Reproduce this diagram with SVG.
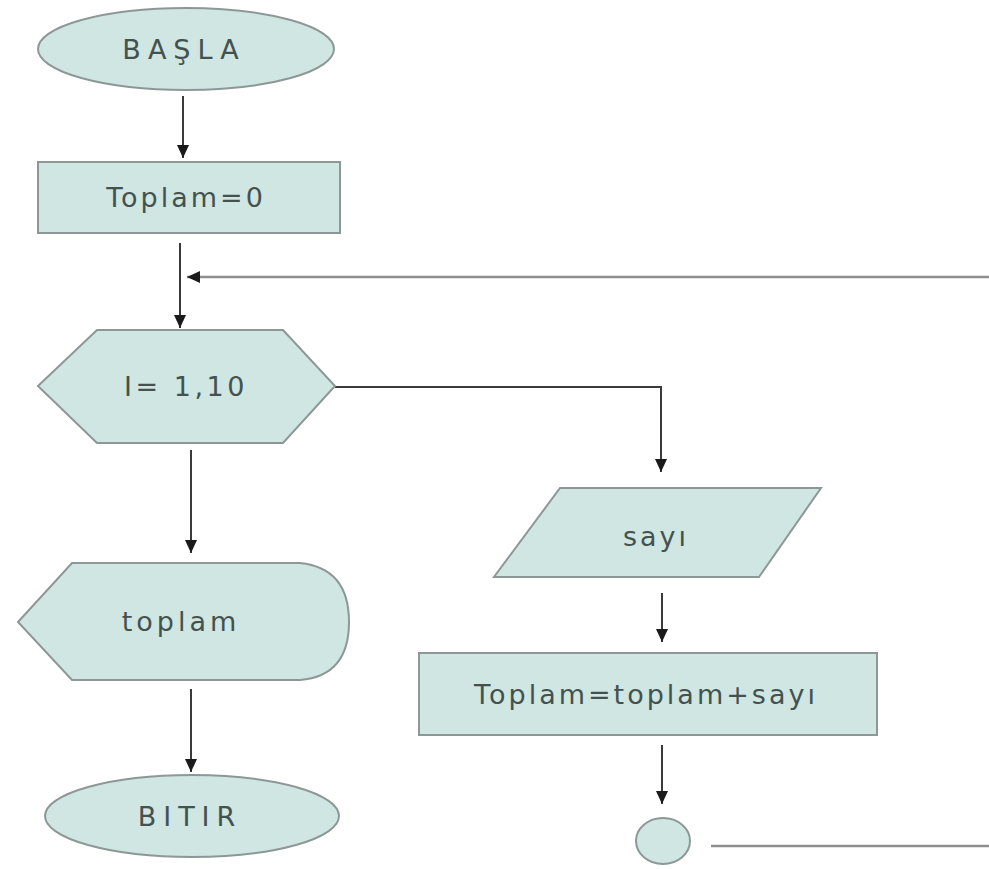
<svg xmlns="http://www.w3.org/2000/svg" width="989" height="869" viewBox="0 0 989 869">
<defs>
<marker id="ah" markerUnits="userSpaceOnUse" markerWidth="14" markerHeight="14" refX="13" refY="7" orient="auto">
<path d="M0,1 L13,7 L0,13 Z" fill="#1a1a1a"/>
</marker>
<style>
.n{fill:#cfe6e3;stroke:#8d9896;stroke-width:2}
.t{font-family:"DejaVu Sans",Verdana,sans-serif;font-size:27px;fill:#44524f;text-anchor:middle}
.c{fill:none;stroke:#3a3a3a;stroke-width:2}
.g{fill:none;stroke:#8f8f8f;stroke-width:2.5}
</style>
</defs>
<rect width="989" height="869" fill="#ffffff"/>
<g id="connectors">
<line class="c" x1="183" y1="96" x2="183" y2="158" marker-end="url(#ah)"/>
<line class="c" x1="180" y1="243" x2="180" y2="328" marker-end="url(#ah)"/>
<line class="g" x1="989" y1="277" x2="187" y2="277" marker-end="url(#ah)"/>
<polyline class="c" points="335,387 661,387 661,472" marker-end="url(#ah)"/>
<line class="c" x1="191" y1="450" x2="191" y2="553" marker-end="url(#ah)"/>
<line class="c" x1="191" y1="689" x2="191" y2="772" marker-end="url(#ah)"/>
<line class="c" x1="662" y1="593" x2="662" y2="642" marker-end="url(#ah)"/>
<line class="c" x1="662" y1="745" x2="662" y2="804" marker-end="url(#ah)"/>
<line class="g" x1="711" y1="846" x2="989" y2="846"/>
</g>
<g id="basla">
<ellipse class="n" cx="186" cy="49" rx="148" ry="41"/>
<text class="t" x="184" y="59" letter-spacing="7">BAŞLA</text>
</g>
<g id="toplam0">
<rect class="n" x="38" y="162" width="302" height="71"/>
<text class="t" x="186" y="207" letter-spacing="3">Toplam=0</text>
</g>
<g id="loop">
<polygon class="n" points="38,386 97,330 283,330 335,386 283,443 97,443"/>
<text class="t" x="186" y="396" letter-spacing="3.5">I= 1,10</text>
</g>
<g id="output">
<path class="n" d="M18,622 L72,563 L300,563 Q349,568 349,622 Q349,676 300,680 L72,680 Z"/>
<text class="t" x="181" y="631" letter-spacing="4">toplam</text>
</g>
<g id="bitir">
<ellipse class="n" cx="192" cy="816" rx="147" ry="41"/>
<text class="t" x="190" y="826" letter-spacing="7">BITIR</text>
</g>
<g id="sayi">
<polygon class="n" points="560,488 821,488 759,577 494,577"/>
<text class="t" x="656" y="546" letter-spacing="3">sayı</text>
</g>
<g id="toplamsayi">
<rect class="n" x="419" y="653" width="458" height="82"/>
<text class="t" x="646" y="704" letter-spacing="3">Toplam=toplam+sayı</text>
</g>
<g id="connector">
<ellipse class="n" cx="663" cy="841" rx="27" ry="23"/>
</g>
</svg>
